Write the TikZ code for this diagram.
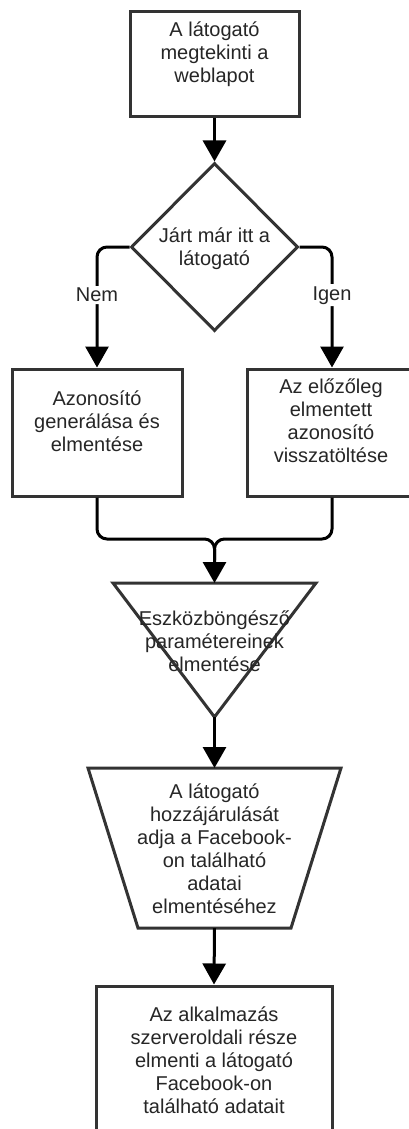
\documentclass[tikz,border=0pt]{standalone}
\usepackage{fontspec}
\setmainfont{Liberation Sans}
\usetikzlibrary{positioning}
\usetikzlibrary{arrows.meta}
\usetikzlibrary{shapes.geometric}
\definecolor{framegray}{HTML}{333333}
\definecolor{textgray}{HTML}{262626}

\begin{document}
\begin{tikzpicture}[x=1pt, y=-1pt,
    box/.style={draw=framegray, line width=3pt, rectangle, inner sep=0pt},
    outline/.style={draw=framegray, line width=3pt, line join=miter},
    txt/.style={align=center, text=textgray, font=\fontsize{20}{23}\selectfont, inner sep=0pt},
    conn/.style={black, line width=3pt, -{Triangle[length=21pt,width=23pt]}},
    lbl/.style={fill=white, text=textgray, font=\fontsize{20}{23}\selectfont, inner sep=2pt}]
            \clip (0,0) rectangle (409,1129);
            \fill[white] (0,0) rectangle (409,1129);

            % boxes
            \node[box, minimum width=169pt, minimum height=105pt] (visit) at (214.5,64.5) {};
            \node[txt] (visit-t) at (214.5,54) {A látogató\\megtekinti a\\weblapot};

            \node[box, diamond, minimum width=167pt, minimum height=168pt] (been) at (214.5,247) {};
            \node[txt] (been-t) at (214.5,249) {Járt már itt a\\látogató};

            \node[box, minimum width=170pt, minimum height=127pt] (genid) at (97,432.5) {};
            \node[txt] (genid-t) at (97,421) {Azonosító\\generálása és\\elmentése};

            \node[box, minimum width=170pt, minimum height=127pt] (loadid) at (332,432.5) {};
            \node[txt] (loadid-t) at (331,421) {Az előzőleg\\elmentett\\azonosító\\visszatöltése};

            % triangle
            \coordinate (tritop) at (214.5,583);
            \coordinate (triapex) at (214.5,717);
            \draw[outline] (113,583) -- (316,583) -- (triapex) -- cycle;
            \node[txt] (param-t) at (214.5,641) {Eszközböngésző\\paramétereinek\\elmentése};

            % trapezium
            \coordinate (constop) at (214.5,768);
            \coordinate (consbot) at (214.5,928);
            \draw[outline] (88,768) -- (341,768) -- (291,928) -- (138,928) -- cycle;
            \node[txt] (consent-t) at (214.5,849) {A látogató\\hozzájárulását\\adja a Facebook-\\on található\\adatai\\elmentéséhez};

            \node[box, minimum width=236pt, minimum height=200pt] (store) at (214,1086) {};
            \node[txt] (store-t) at (214,1060) {Az alkalmazás\\szerveroldali része\\elmenti a látogató\\Facebook-on\\található adatait};

            % connectors
            \coordinate (merge) at (214.5,539);
            \draw[conn] (visit) -- (been);
            \draw[conn, rounded corners=10pt] (been.west) -| node[lbl, pos=0.70] {Nem} (genid.north);
            \draw[conn, rounded corners=10pt] (been.east) -| node[lbl, pos=0.70] {Igen} (loadid.north);
            \draw[black, line width=3pt, rounded corners=10pt] (loadid.south) |- (merge) -- (214.5,560);
            \draw[conn, rounded corners=10pt] (genid.south) |- (merge) -- (tritop);
            \draw[conn] (triapex) -- (constop);
            \draw[conn] (consbot) -- (store.north);
        \end{tikzpicture}
\end{document}
